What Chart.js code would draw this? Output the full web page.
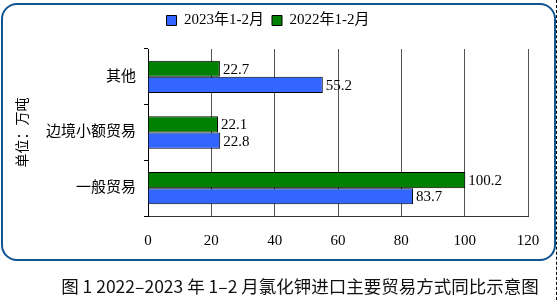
<!DOCTYPE html>
<html>
<head>
<meta charset="utf-8">
<script src="https://cdn.jsdelivr.net/npm/chart.js@4"></script>
<style>
  body { margin: 0; width: 559px; height: 300px; background: #fff; position: relative; overflow: hidden; }
  #frame { position: absolute; left: 1px; top: 3px; width: 551px; height: 254px; border: 2px solid #0f5592; border-radius: 16px; }
  #dash { position: absolute; left: 556px; top: 0; width: 0; height: 300px; border-left: 1px dashed #000; }
  #wrap { position: absolute; left: 0; top: 0; width: 559px; height: 300px; }
  #caption { position: absolute; left: 0; top: 273px; width: 600px; text-align: center; font: 17.5px 'Noto Sans CJK SC', sans-serif; color: #111; white-space: nowrap; }
</style>
</head>
<body>
<div id="frame"></div>
<div id="dash"></div>
<div id="wrap"><canvas id="chart" width="559" height="300"></canvas></div>
<div id="caption">图 1 2022–2023 年 1–2 月氯化钾进口主要贸易方式同比示意图</div>
<script>
const categories = ['其他', '边境小额贸易', '一般贸易'];
const values2023 = [55.2, 22.8, 83.7];
const values2022 = [22.7, 22.1, 100.2];
const xTicks = [0, 20, 40, 60, 80, 100, 120];

const serif = "'Liberation Serif', 'Noto Sans CJK SC', serif";

// value labels at the end of each bar
const valueLabels = {
    id: 'valueLabels',
    afterDatasetsDraw(chart) {
        const ctx = chart.ctx;
        ctx.save();
        ctx.font = '15px ' + serif;
        ctx.fillStyle = '#000';
        ctx.textBaseline = 'middle';
        ctx.textAlign = 'left';
        chart.data.datasets.forEach((ds, i) => {
            chart.getDatasetMeta(i).data.forEach((bar, j) => {
                ctx.fillText(ds.data[j].toFixed(1), bar.x + 3, bar.y + 1);
            });
        });
        ctx.restore();
    }
};

// extra space below the legend
const legendGap = {
    id: 'legendGap',
    beforeInit(chart) {
        const fit = chart.legend.fit;
        chart.legend.fit = function() {
            fit.call(this);
            this.height += 11;
        };
    }
};

const ctx = document.getElementById('chart').getContext('2d');
const chart = new Chart(ctx, {
    type: 'bar',
    data: {
        labels: categories,
        datasets: [
            {
                label: '2022年1-2月',
                data: values2022,
                backgroundColor: '#007f00',
                borderColor: '#000',
                borderWidth: 1
            },
            {
                label: '2023年1-2月',
                data: values2023,
                backgroundColor: '#3366ff',
                borderColor: '#000',
                borderWidth: 1
            }
        ]
    },
    options: {
        indexAxis: 'y',
        responsive: false,
        animation: false,
        layout: { padding: { left: 8, right: 31, top: 5, bottom: 44 } },
        datasets: {
            bar: { categoryPercentage: 0.58, barPercentage: 1 }
        },
        scales: {
            x: {
                min: 0,
                max: 120,
                afterBuildTicks: s => { s.ticks = xTicks.map(v => ({ value: v })); },
                afterFit: s => { s.height = 40; },
                grid: { color: '#555', drawTicks: false },
                border: { color: '#333' },
                ticks: { padding: 16, color: '#000', font: { family: serif, size: 15 } }
            },
            y: {
                afterFit: s => { s.width = 140; },
                grid: { offset: true, drawOnChartArea: false, drawTicks: true, tickLength: 4, color: '#000' },
                border: { color: '#000' },
                ticks: { padding: 8, color: '#000', font: { family: serif, size: 15 } },
                title: {
                    display: true,
                    text: '单位：万吨',
                    color: '#000',
                    padding: { top: 7, bottom: 2 },
                    font: { family: serif, size: 14 }
                }
            }
        },
        plugins: {
            legend: {
                position: 'top',
                reverse: true,
                labels: {
                    boxWidth: 10,
                    boxHeight: 10,
                    padding: 8,
                    color: '#000',
                    font: { family: serif, size: 15 }
                }
            },
            tooltip: { enabled: false }
        }
    },
    plugins: [valueLabels, legendGap]
});
</script>
</body>
</html>
